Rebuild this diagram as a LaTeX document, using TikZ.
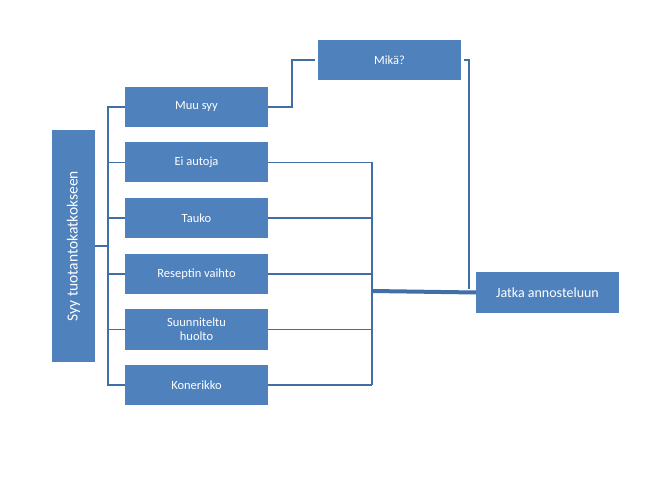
\documentclass[tikz,border=0pt]{standalone}
\usepackage{fontspec}
\setmainfont{Carlito}
\definecolor{bx}{RGB}{79,129,189}
\definecolor{ln}{RGB}{65,110,165}
\begin{document}
\begin{tikzpicture}[x=1pt,y=-1pt,
  box/.style={fill=bx,draw=none,text=white,font=\fontsize{12.5}{14}\selectfont,align=center,inner sep=0pt},
  con/.style={draw=ln,line width=1.4pt}]
\useasboundingbox (0,0) rectangle (658,502);
\node[box,minimum width=43pt,minimum height=232pt] (root) at (73.5,246) {};
\node[box,rotate=90,font=\fontsize{15.5}{17}\selectfont] at (73.5,246) {Syy tuotantokatkokseen};
\node[box,minimum width=143pt,minimum height=40pt] (m) at (196.5,107) {Muu syy};
\node[box,minimum width=143pt,minimum height=40pt] (e) at (196.5,162.5) {Ei autoja};
\node[box,minimum width=143pt,minimum height=40pt] (t) at (196.5,218) {Tauko};
\node[box,minimum width=143pt,minimum height=40pt] (r) at (196.5,274) {Reseptin vaihto};
\node[box,minimum width=143pt,minimum height=40pt] (s) at (196.5,329.5) {Suunniteltu\\huolto};
\node[box,minimum width=143pt,minimum height=40pt] (k) at (196.5,385) {Konerikko};
\node[box,minimum width=143pt,minimum height=40pt] (q) at (389.5,60) {Mikä?};
\node[box,minimum width=143pt,minimum height=41pt,font=\fontsize{14}{16}\selectfont] (j) at (547.5,292.5) {Jatka annosteluun};
\coordinate (bus) at (108,246);
\draw[con] (root.east) -- (bus);
\draw[con] (m.west) -| (108,107) -- (108,385) -- (k.west);
\foreach \n in {e,t,r,s} \draw[con] (108,0 |- \n.west) -- (\n.west);
\draw[con] (m.east) -- (292,107) -- (292,60) -- (315,60);
\draw[con] (464,60) -- (469,60) -- (469,289);
\foreach \n in {e,t,r,s,k} \draw[con] (\n.east) -- (372,0 |- \n.east);
\draw[con] (372,162.5) -- (372,385);
\draw[draw=ln,line width=4pt] (372,291) -- (j.west);
\end{tikzpicture}
\end{document}
